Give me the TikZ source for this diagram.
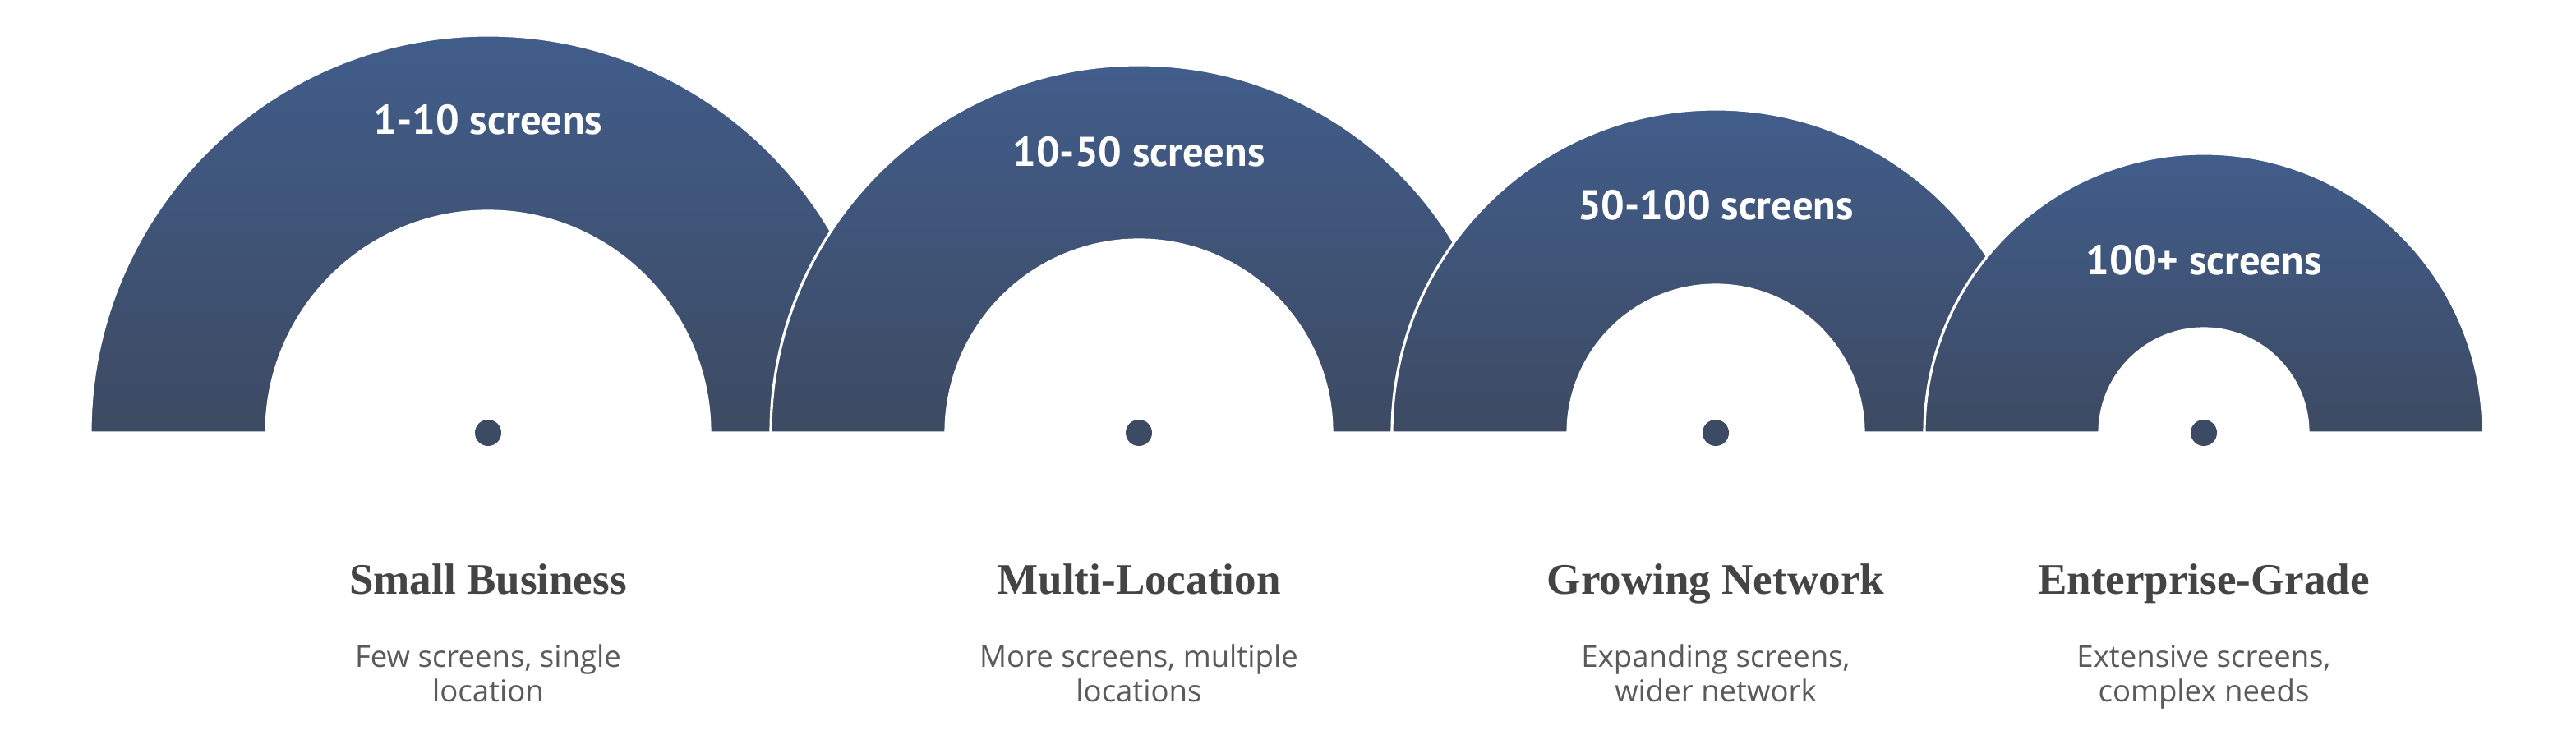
\documentclass[tikz,border=0pt]{standalone}
\usepackage{fontspec}
\usepackage{xcolor}
\usetikzlibrary{positioning}
\newfontfamily\rangefont{PT Sans}
\newfontfamily\titlefont{Liberation Serif}
\newfontfamily\descfont{Open Sans}
\definecolor{archtop}{RGB}{65,93,139}
\definecolor{archbottom}{RGB}{61,74,98}
\definecolor{dotcol}{RGB}{61,74,99}
\definecolor{titlegray}{RGB}{68,68,68}
\definecolor{descgray}{RGB}{90,90,90}

\tikzset{
  archband/.style={top color=archtop, bottom color=archbottom, draw=white, line width=0.9pt},
  rangelabel/.style={text=white, font=\rangefont\bfseries\fontsize{14.4}{16}\selectfont},
  tiertitle/.style={anchor=base, text=titlegray, font=\titlefont\bfseries\fontsize{15.1}{17}\selectfont},
  tierdesc/.style={anchor=base, align=center, text=descgray, font=\descfont\fontsize{10.4}{11.95}\selectfont}
}

\begin{document}
\begin{tikzpicture}
\useasboundingbox (0,0) rectangle (31.35,8.95);

% Small Business
\shadedraw[archband] (1.10,3.68) arc[start angle=180, end angle=0, radius=4.84]
  -- (8.64,3.68) arc[start angle=0, end angle=180, radius=2.70] -- cycle;
\fill[dotcol] (5.94,3.68) circle (0.16);
\node[rangelabel] (range1) at (5.94,7.49) {1-10 screens};

% Multi-Location
\shadedraw[archband] (9.38,3.68) arc[start angle=180, end angle=0, radius=4.48]
  -- (16.21,3.68) arc[start angle=0, end angle=180, radius=2.35] -- cycle;
\fill[dotcol] (13.86,3.68) circle (0.16);
\node[rangelabel] (range2) at (13.86,7.10) {10-50 screens};

% Growing Network
\shadedraw[archband] (16.94,3.68) arc[start angle=180, end angle=0, radius=3.94]
  -- (22.68,3.68) arc[start angle=0, end angle=180, radius=1.80] -- cycle;
\fill[dotcol] (20.88,3.68) circle (0.16);
\node[rangelabel] (range3) at (20.88,6.45) {50-100 screens};

% Enterprise-Grade
\shadedraw[archband] (23.42,3.68) arc[start angle=180, end angle=0, radius=3.40]
  -- (28.09,3.68) arc[start angle=0, end angle=180, radius=1.27] -- cycle;
\fill[dotcol] (26.82,3.68) circle (0.16);
\node[rangelabel] (range4) at (26.82,5.78) {100+ screens};

% Titles
\node[tiertitle] (title1) at (5.94,1.71) {Small Business};
\node[tiertitle] (title2) at (13.86,1.71) {Multi-Location};
\node[tiertitle] (title3) at (20.88,1.71) {Growing Network};
\node[tiertitle] (title4) at (26.82,1.71) {Enterprise-Grade};

% Descriptions
\node[tierdesc] (desc1) at (5.94,0.40) {Few screens, single\\location};
\node[tierdesc] (desc2) at (13.86,0.40) {More screens, multiple\\locations};
\node[tierdesc] (desc3) at (20.88,0.40) {Expanding screens,\\wider network};
\node[tierdesc] (desc4) at (26.82,0.40) {Extensive screens,\\complex needs};
\end{tikzpicture}
\end{document}
